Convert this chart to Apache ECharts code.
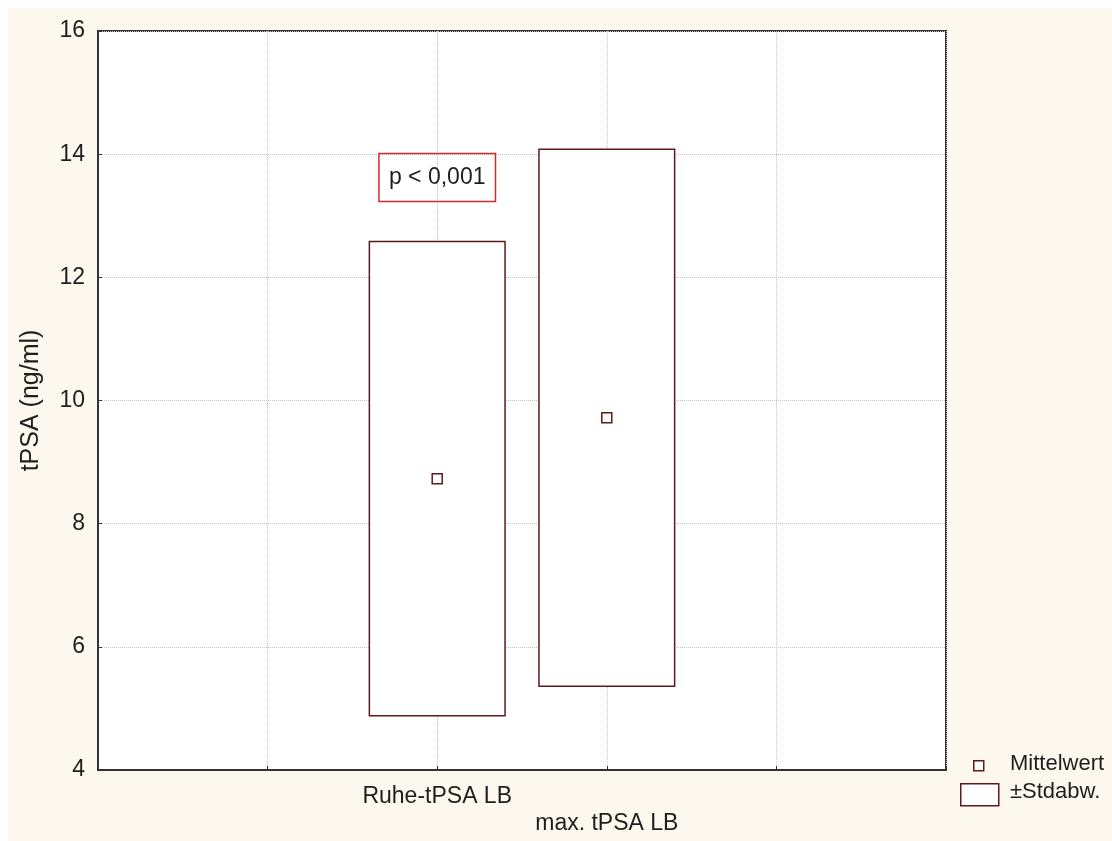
<!DOCTYPE html>
<html>
<head>
<meta charset="utf-8">
<script src="https://cdn.jsdelivr.net/npm/echarts@6/dist/echarts.min.js"></script>
<style>
  html, body { margin: 0; padding: 0; background: #ffffff; }
  #chart { position: absolute; left: 8px; top: 8px; width: 1104px; height: 833px; }
</style>
</head>
<body>
<div id="chart"></div>
<script>
// Groups shown on the horizontal axis
const categories = ['Ruhe-tPSA LB', 'max. tPSA LB'];
// Mean tPSA (ng/ml) per group
const means = [8.73, 9.72];
// Standard deviation per group
const stdDevs = [3.85, 4.36];
// Y-axis ticks
const yTicks = [4, 6, 8, 10, 12, 14, 16];
// Significance note and the level it sits at
const pText = 'p < 0,001';
const pLevel = 13.62;
const legendNames = ['Mittelwert', '\u00b1Stdabw.'];

// groups occupy slots 2 and 3 on a 0..5 axis
const slotOffset = 2;
const halfWidth = 0.4;

const maroon = '#5e1a1a';
const ink = '#1e1e1e';
const font = 'Arial, "Liberation Sans", sans-serif';

const boxData = categories.map((c, i) => [i + slotOffset, means[i], stdDevs[i]]);
const meanData = categories.map((c, i) => [i + slotOffset, means[i]]);

const chart = echarts.init(document.getElementById('chart'));
chart.setOption({
  backgroundColor: '#fcf8ee',
  animation: false,
  textStyle: { fontFamily: font },
  grid: {
    left: 90, top: 23, width: 848, height: 739,
    show: true, backgroundColor: '#ffffff', borderColor: '#333333', borderWidth: 2
  },
  xAxis: {
    type: 'value', min: 0, max: 5, interval: 1,
    axisLine: { show: true, lineStyle: { color: '#333333', width: 2 } },
    axisTick: { show: true, inside: true, length: 4, lineStyle: { color: '#333333' } },
    splitLine: { show: true, lineStyle: { color: '#c4c4c4', type: 'dotted', width: 1 } },
    axisLabel: {
      margin: 13, fontSize: 23, color: ink, fontFamily: font, lineHeight: 27,
      formatter: function (v) {
        const idx = Math.round(v) - slotOffset;
        if (idx < 0 || idx >= categories.length) return '';
        return (idx % 2 === 1 ? '\n' : '') + categories[idx];
      }
    }
  },
  yAxis: {
    type: 'value', min: yTicks[0], max: yTicks[yTicks.length - 1], interval: 2,
    name: 'tPSA (ng/ml)', nameLocation: 'middle', nameGap: 54,
    nameTextStyle: { fontSize: 25, color: ink, fontFamily: font },
    axisLine: { show: true, lineStyle: { color: '#333333', width: 2 } },
    axisTick: { show: true, inside: true, length: 4, lineStyle: { color: '#333333' } },
    splitLine: { show: true, lineStyle: { color: '#c4c4c4', type: 'dotted', width: 1 } },
    axisLabel: { margin: 13, fontSize: 23, color: ink, fontFamily: font }
  },
  series: [
    {
      name: legendNames[1],
      type: 'custom',
      z: 3,
      data: boxData,
      renderItem: function (params, api) {
        const x = api.value(0), m = api.value(1), s = api.value(2);
        const p1 = api.coord([x - halfWidth, m + s]);
        const p2 = api.coord([x + halfWidth, m - s]);
        return {
          type: 'rect',
          shape: { x: p1[0], y: p1[1], width: p2[0] - p1[0], height: p2[1] - p1[1] },
          style: { fill: '#ffffff', stroke: maroon, lineWidth: 1.5 }
        };
      }
    },
    {
      name: legendNames[0],
      type: 'scatter',
      z: 4,
      symbol: 'rect',
      symbolSize: 10,
      itemStyle: { color: '#ffffff', borderColor: maroon, borderWidth: 1.5, opacity: 1 },
      data: meanData
    },
    {
      name: 'note',
      type: 'scatter',
      z: 5,
      symbolSize: 0,
      silent: true,
      itemStyle: { opacity: 1 },
      data: [[slotOffset, pLevel]],
      label: {
        show: true, position: 'inside',
        formatter: pText,
        fontSize: 23, color: ink, fontFamily: font,
        lineHeight: 26, padding: [11, 10],
        borderColor: '#d42a2a', borderWidth: 1.5
      }
    }
  ],
  graphic: [
    {
      type: 'rect', left: 965, top: 752,
      shape: { width: 10, height: 10 },
      style: { fill: '#ffffff', stroke: maroon, lineWidth: 1.5 }
    },
    {
      type: 'text', left: 1002, top: 745,
      style: { text: legendNames[0], fontSize: 22, fill: ink, fontFamily: font }
    },
    {
      type: 'rect', left: 952, top: 775,
      shape: { width: 38, height: 22 },
      style: { fill: '#ffffff', stroke: maroon, lineWidth: 1.5 }
    },
    {
      type: 'text', left: 1002, top: 773,
      style: { text: legendNames[1], fontSize: 22, fill: ink, fontFamily: font }
    }
  ]
});
</script>
</body>
</html>
